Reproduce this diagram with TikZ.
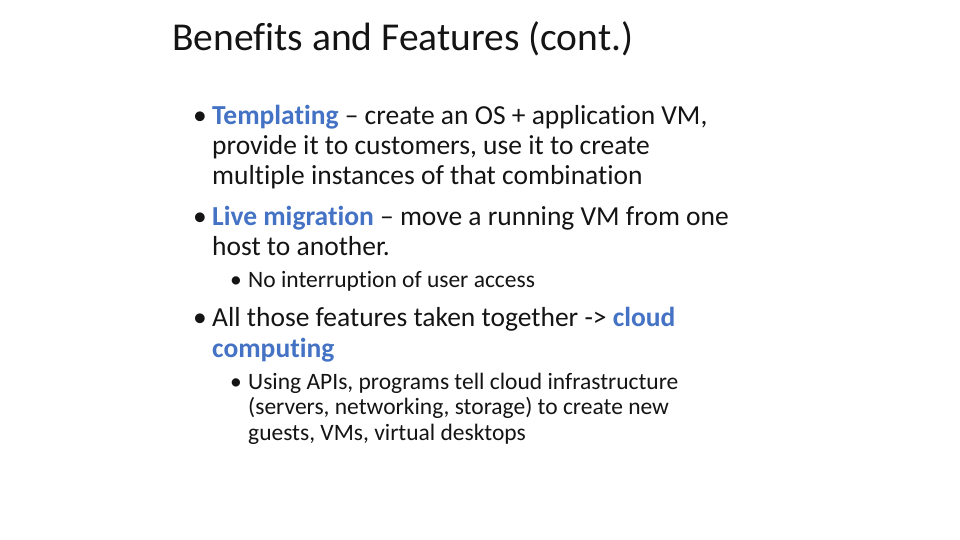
\documentclass[tikz,border=0pt]{standalone}
\usepackage{fontspec}
\setmainfont[Ligatures={NoCommon}]{Carlito}
\definecolor{accent}{RGB}{68,114,196}
\definecolor{txt}{RGB}{20,20,20}
\begin{document}
\begin{tikzpicture}[x=1pt,y=-1pt,
  ln/.style={anchor=base west,inner sep=0pt,text=txt,font=\fontsize{27.5}{30}\selectfont},
  sm/.style={anchor=base west,inner sep=0pt,text=txt,font=\fontsize{23.5}{26}\selectfont},
  ttl/.style={anchor=base west,inner sep=0pt,text=txt,font=\fontsize{39.5}{44}\selectfont}]
\useasboundingbox[fill=white] (0,0) rectangle (960,540);
\node[ttl] (t) at (172,51) {Benefits and Features (cont.)};
\node[ln] (b1) at (193,125) {•};
\node[ln] (l1) at (212,125) {\textcolor{accent}{\textbf{Templating}} – create an OS + application VM,};
\node[ln] (l2) at (212,155) {provide it to customers, use it to create};
\node[ln] (l3) at (212,185) {multiple instances of that combination};
\node[ln] (b2) at (193,225) {•};
\node[ln] (l4) at (212,225) {\textcolor{accent}{\textbf{Live migration}} – move a running VM from one};
\node[ln] (l5) at (212,255) {host to another.};
\node[sm] (b3) at (230,287) {•};
\node[sm] (l6) at (248,287) {No interruption of user access};
\node[ln] (b4) at (193,326) {•};
\node[ln] (l7) at (212,326) {All those features taken together -> \textcolor{accent}{\textbf{cloud}}};
\node[ln] (l8) at (212,357) {\textcolor{accent}{\textbf{computing}}};
\node[sm] (b5) at (230,389) {•};
\node[sm] (l9) at (248,389) {Using APIs, programs tell cloud infrastructure};
\node[sm] (l10) at (248,414) {(servers, networking, storage) to create new};
\node[sm] (l11) at (248,440) {guests, VMs, virtual desktops};
\end{tikzpicture}
\end{document}
